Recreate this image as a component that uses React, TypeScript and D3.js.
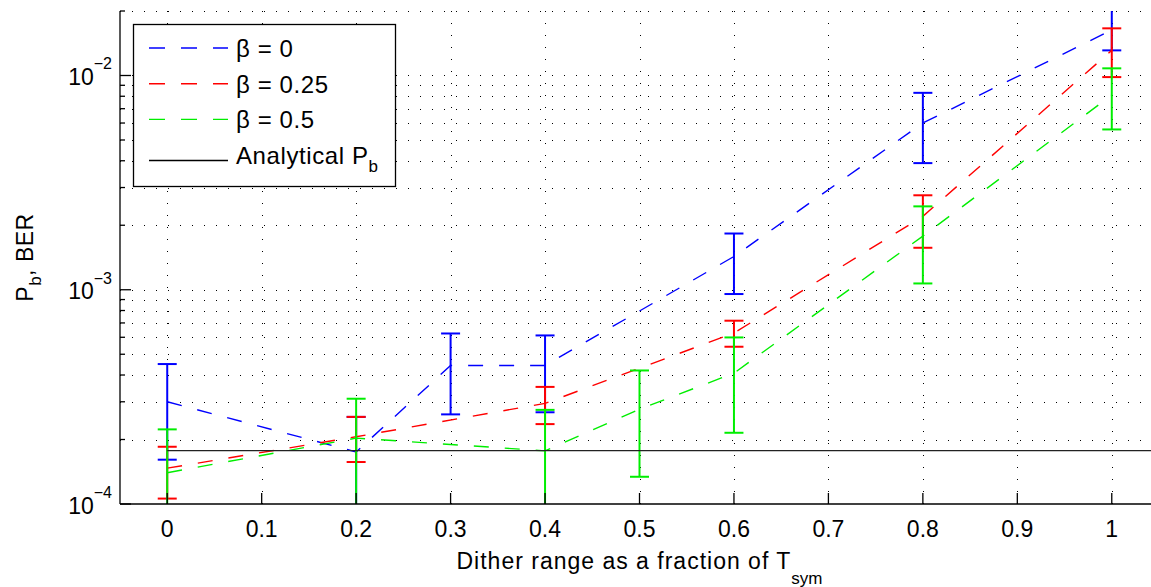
import React from "react";
import * as d3 from "d3";

// (log y axis)
const xBeta0 = [0, 0.2, 0.3, 0.4, 0.6, 0.8, 1];
const berBeta0 = [3.0e-4, 1.75e-4, 4.43e-4, 4.43e-4, 1.43e-3, 6.0e-3, 1.63e-2];
const loBeta0 = [1.61e-4, null, 2.62e-4, 2.68e-4, 9.55e-4, 3.9e-3, 1.31e-2];
const hiBeta0 = [4.5e-4, 2.55e-4, 6.25e-4, 6.12e-4, 1.83e-3, 8.3e-3, null];

const xBeta25 = [0, 0.2, 0.4, 0.6, 0.8, 1];
const berBeta25 = [1.47e-4, 2.06e-4, 2.95e-4, 6.28e-4, 2.2e-3, 1.31e-2];
const loBeta25 = [1.06e-4, 1.57e-4, 2.36e-4, 5.42e-4, 1.57e-3, 9.83e-3];
const hiBeta25 = [1.85e-4, 2.55e-4, 3.52e-4, 7.17e-4, 2.76e-3, 1.66e-2];

const xBeta50 = [0, 0.2, 0.4, 0.5, 0.6, 0.8, 1];
const berBeta50 = [1.4e-4, 2.03e-4, 1.77e-4, 2.77e-4, 4.08e-4, 1.78e-3, 8.1e-3];
const loBeta50 = [null, null, null, 1.34e-4, 2.15e-4, 1.07e-3, 5.6e-3];
const hiBeta50 = [2.23e-4, 3.1e-4, 2.75e-4, 4.2e-4, 5.99e-4, 2.45e-3, 1.08e-2];

const analyticalX = [0, 1.1];
const analyticalPb = 1.775e-4;

const xTicks = [0, 0.1, 0.2, 0.3, 0.4, 0.5, 0.6, 0.7, 0.8, 0.9, 1];
const yMajor = [1e-4, 1e-3, 1e-2];
const yExp = ["−4", "−3", "−2"];

const series = [
  { name: "β = 0", color: "#0000ff", xs: xBeta0, ys: berBeta0, lo: loBeta0, hi: hiBeta0 },
  { name: "β = 0.25", color: "#ff0000", xs: xBeta25, ys: berBeta25, lo: loBeta25, hi: hiBeta25 },
  { name: "β = 0.5", color: "#00ee00", xs: xBeta50, ys: berBeta50, lo: loBeta50, hi: hiBeta50 },
];

const font = "'Liberation Sans', Arial, Helvetica, sans-serif";

export default function App() {
  const W = 1151, H = 587;
  const left = 120, right = 1159, top = 11, bottom = 504;
  const x = d3.scaleLinear().domain([-0.05, 1.05]).range([left, right]);
  const y = d3.scaleLog().domain([1e-4, 0.02]).range([bottom, top]);

  // minor log ticks 2..9 per decade, up to 0.02
  const yMinor: number[] = [];
  [1e-4, 1e-3, 1e-2].forEach((d) => {
    for (let k = 2; k <= 9; k++) {
      const v = d * k;
      if (v <= 0.02 + 1e-12) yMinor.push(v);
    }
  });
  const yGrid = [...yMinor, 1e-3, 1e-2];

  const line = d3
    .line<[number, number]>()
    .x((d) => x(d[0]))
    .y((d) => y(d[1]));

  const capHalf = 9.5;

  return (
    <svg width={W} height={H} style={{ position: "absolute", left: 0, top: 0, background: "#fff" }} fontFamily={font}>
      <defs>
        <clipPath id="plotClip">
          <rect x={left} y={top} width={right - left} height={bottom - top} />
        </clipPath>
      </defs>

      {/* grid */}
      <g stroke="#000" strokeWidth={1} strokeDasharray="1 11" fill="none">
        {yGrid.map((v, i) => (
          <line key={"hg" + i} x1={left} x2={right} y1={Math.round(y(v)) + 0.5} y2={Math.round(y(v)) + 0.5} />
        ))}
        {xTicks.map((t, i) => (
          <line key={"vg" + i} x1={Math.round(x(t)) + 0.5} x2={Math.round(x(t)) + 0.5} y1={bottom} y2={top} />
        ))}
      </g>

      {/* series */}
      <g clipPath="url(#plotClip)">
        {series.map((s) => (
          <g key={s.name}>
            <path
              d={line(s.xs.map((v, i) => [v, s.ys[i]] as [number, number])) || ""}
              fill="none"
              stroke={s.color}
              strokeWidth={1.4}
              strokeDasharray="15 16"
            />
            {s.xs.map((v, i) => {
              const cx = x(v);
              const yHi = s.hi[i] == null ? top - 5 : y(s.hi[i] as number);
              const yLo = s.lo[i] == null ? bottom + 5 : y(s.lo[i] as number);
              return (
                <g key={i} stroke={s.color} strokeWidth={2}>
                  <line x1={cx} x2={cx} y1={yHi} y2={yLo} />
                  {s.hi[i] != null && <line x1={cx - capHalf} x2={cx + capHalf} y1={yHi} y2={yHi} />}
                  {s.lo[i] != null && <line x1={cx - capHalf} x2={cx + capHalf} y1={yLo} y2={yLo} />}
                </g>
              );
            })}
          </g>
        ))}
        <line
          x1={x(analyticalX[0])}
          x2={x(analyticalX[1])}
          y1={y(analyticalPb)}
          y2={y(analyticalPb)}
          stroke="#222"
          strokeWidth={1.3}
        />
      </g>

      {/* axes */}
      <g stroke="#000" strokeWidth={1.3}>
        <line x1={left} x2={left} y1={top} y2={bottom} />
        <line x1={left} x2={right} y1={bottom} y2={bottom} />
        {yMajor.map((v, i) => (
          <line key={"ym" + i} x1={left} x2={left + 11} y1={y(v)} y2={y(v)} />
        ))}
        {yMinor.map((v, i) => (
          <line key={"yn" + i} x1={left} x2={left + 5} y1={y(v)} y2={y(v)} />
        ))}
        {xTicks.map((t, i) => (
          <line key={"xt" + i} x1={x(t)} x2={x(t)} y1={bottom} y2={bottom - 11} />
        ))}
      </g>

      {/* tick labels */}
      <g fontSize={23} fill="#000">
        {xTicks.map((t, i) => (
          <text key={"xl" + i} x={x(t)} y={537} textAnchor="middle">
            {d3.format("")(t)}
          </text>
        ))}
        {yMajor.map((v, i) => (
          <text key={"yl" + i} x={112} y={y(v) + 9.5} textAnchor="end">
            10
            <tspan dy={-15.5} fontSize={16}>{yExp[i]}</tspan>
          </text>
        ))}
      </g>

      {/* axis labels */}
      <text x={(left + right) / 2} y={569} textAnchor="middle" fontSize={23} letterSpacing={1}>
        Dither range as a fraction of T
        <tspan dy={15} fontSize={17} letterSpacing={0}>sym</tspan>
      </text>
      <text transform={`translate(33,${(top + bottom) / 2}) rotate(-90)`} textAnchor="middle" fontSize={23} letterSpacing={0.5}>
        P
        <tspan dy={8} fontSize={17}>b</tspan>
        <tspan dy={-8}>, BER</tspan>
      </text>

      {/* legend */}
      <g>
        <rect x={133.5} y={24.5} width={262} height={162} fill="#fff" stroke="#000" strokeWidth={1.3} />
        {series.map((s, i) => {
          const ly = 48 + i * 35.7;
          return (
            <g key={"lg" + i}>
              <line x1={149} x2={228} y1={ly} y2={ly} stroke={s.color} strokeWidth={1.4} strokeDasharray="16 16" />
              <text x={236} y={ly + 9} fontSize={24} letterSpacing={0.6}>
                {s.name}
              </text>
            </g>
          );
        })}
        <line x1={149} x2={228} y1={160.5} y2={160.5} stroke="#000" strokeWidth={1.3} />
        <text x={236} y={164} fontSize={24} letterSpacing={0.6}>
          Analytical P
          <tspan dy={8} fontSize={17}>b</tspan>
        </text>
      </g>
    </svg>
  );
}
